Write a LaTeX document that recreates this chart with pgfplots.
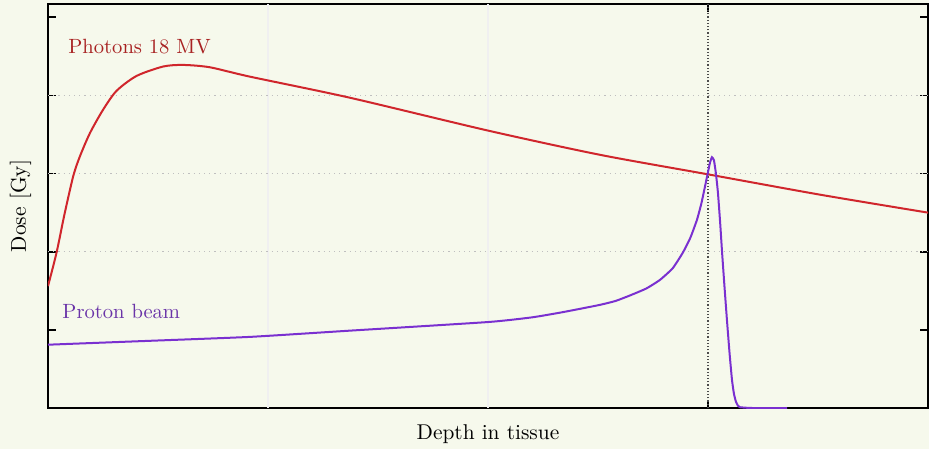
\documentclass[border=0pt]{standalone}
\usepackage{pgfplots}
\pgfplotsset{compat=1.18}
\definecolor{bgc}{HTML}{F6F9EC}
\definecolor{phot}{HTML}{D0262C}
\definecolor{photlab}{HTML}{A82222}
\definecolor{prot}{HTML}{7A30D0}
\definecolor{protlab}{HTML}{6A34A8}
\begin{document}
\begin{tikzpicture}
\fill[bgc] (-24pt,-20.5pt) rectangle (440.5pt,204pt);
\begin{axis}[
  at={(0,0)}, anchor=south west,
  scale only axis, width=440pt, height=202pt,
  xmin=0, xmax=4, ymin=0, ymax=5.17,
  xtick={1,2,3}, ytick={1,2,3,4,5},
  xticklabels={}, yticklabels={},
  tick align=inside, major tick length=4pt,
  tick style={black, line width=0.8pt},
  axis line style={black, line width=1pt},
  axis background/.style={fill=bgc},
  xlabel={Depth in tissue}, ylabel={Dose [Gy]},
  label style={font=\fontsize{10.7}{13}\selectfont},
  xlabel style={yshift=2pt},
  ylabel style={yshift=-2pt},
  clip=true,
]
\draw[gray!12, line width=0.8pt] (axis cs:1,0) -- (axis cs:1,5.17);
\draw[gray!12, line width=0.8pt] (axis cs:2,0) -- (axis cs:2,5.17);
\draw[gray!50, dotted, line width=0.6pt] (axis cs:0,2) -- (axis cs:4,2);
\draw[gray!50, dotted, line width=0.6pt] (axis cs:0,3) -- (axis cs:4,3);
\draw[gray!50, dotted, line width=0.6pt] (axis cs:0,4) -- (axis cs:4,4);
\draw[black!70, densely dotted, line width=0.6pt] (axis cs:3,0) -- (axis cs:3,5.17);
\addplot[phot, line width=1pt, smooth, tension=0.45] coordinates {
(0,1.56) (0.039,1.99) (0.075,2.48) (0.115,2.97) (0.145,3.22)
(0.191,3.52) (0.251,3.82) (0.312,4.06) (0.403,4.25) (0.524,4.37) (0.615,4.39)
(0.736,4.36) (0.918,4.24)
(1.373,3.97) (2.0,3.55) (2.509,3.24) (3.0,2.99) (3.509,2.73) (4.0,2.5)
};
\addplot[prot, line width=1pt, smooth, tension=0.3] coordinates {
(0,0.81) (0.464,0.86) (0.918,0.91) (1.373,0.99) (2.0,1.10) (2.2,1.16) (2.327,1.22)
(2.42,1.27) (2.509,1.32) (2.58,1.37) (2.645,1.44) (2.72,1.53) (2.782,1.64) (2.84,1.79) (2.886,1.99) (2.92,2.18) (2.95,2.41) (2.97,2.62) (2.986,2.83)
(3.0,3.02) (3.009,3.14) (3.018,3.21) (3.027,3.17) (3.036,3.0) (3.045,2.76) (3.055,2.38) (3.064,1.99) (3.075,1.55) (3.086,1.13)
(3.098,0.7) (3.109,0.36) (3.118,0.18) (3.127,0.08) (3.136,0.03) (3.145,0.01) (3.2,0) (3.36,0)
};
\node[anchor=west, text=photlab, font=\fontsize{10.3}{12}\selectfont, inner sep=0pt] at (axis cs:0.091,4.63) {Photons 18 MV};
\node[anchor=west, text=protlab, font=\fontsize{10.3}{12}\selectfont, inner sep=0pt] at (axis cs:0.064,1.23) {Proton beam};
\end{axis}
\end{tikzpicture}
\end{document}
